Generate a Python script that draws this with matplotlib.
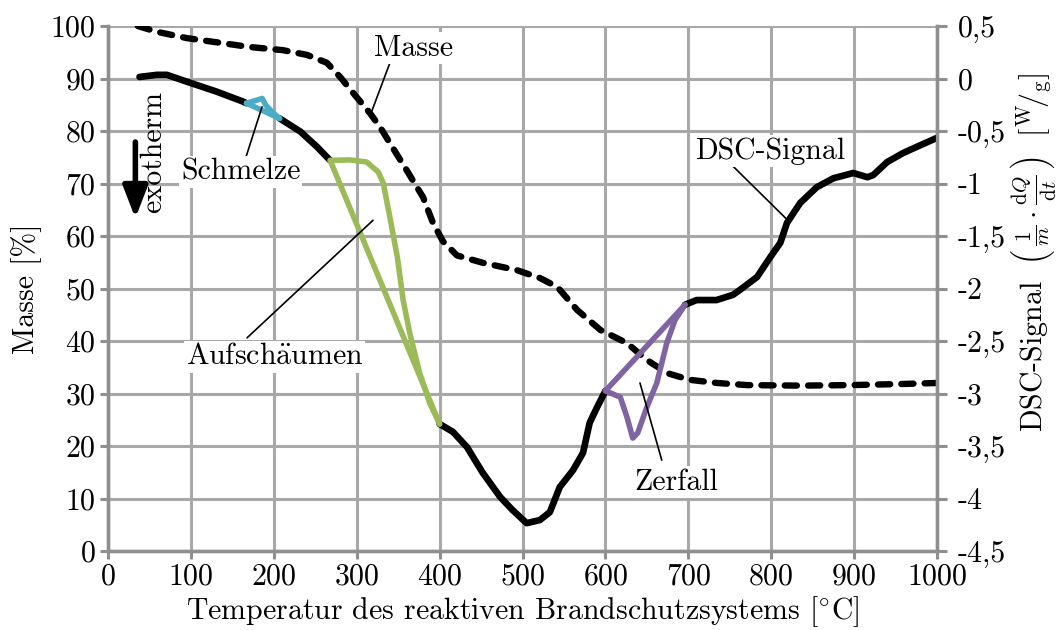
import numpy as np
import matplotlib
matplotlib.use('Agg')
import matplotlib.pyplot as plt

plt.rcParams['font.family'] = ['cmr10', 'DejaVu Serif']
plt.rcParams['mathtext.fontset'] = 'cm'
plt.rcParams['axes.unicode_minus'] = False
plt.rcParams['axes.formatter.use_mathtext'] = True
plt.rcParams['font.size'] = 21.5

# mass loss curve (TG)
mass_temp = [36, 59, 95, 131, 171, 211, 240, 264, 280, 296, 316, 328, 340, 360,
             380, 392, 404, 421, 452, 493, 521, 542, 566, 594, 626, 650, 674,
             702, 735, 771, 835, 895, 955, 1000]
mass = [100, 98.9, 97.7, 96.9, 96.0, 95.4, 94.5, 93.0, 90.3, 87.2, 83.4, 80.8,
        77.7, 72.6, 67.4, 62.5, 59.0, 56.3, 54.9, 53.5, 52.0, 50.3, 45.9, 42.1,
        39.6, 36.4, 33.9, 32.6, 32.0, 31.6, 31.5, 31.6, 31.8, 32.0]

# DSC signal in W/g
dsc_temp = [38, 59, 71, 95, 131, 163, 167, 178, 186, 190, 198, 207, 232, 252,
            268, 292, 312, 326, 332, 340, 349, 356, 364, 376, 388, 400, 416,
            433, 452, 473, 488, 505, 521, 533, 545, 561, 573, 581, 590, 600,
            618, 626, 633, 639, 650, 662, 674, 684, 696, 710, 734, 754, 762,
            783, 799, 811, 819, 835, 855, 875, 899, 916, 923, 940, 959, 980, 1000]
dsc = [0.015, 0.035, 0.035, -0.03, -0.125, -0.22, -0.235, -0.21, -0.19, -0.25,
       -0.32, -0.38, -0.505, -0.65, -0.78, -0.775, -0.795, -0.89, -0.995, -1.32,
       -1.70, -2.11, -2.425, -2.805, -3.09, -3.29, -3.365, -3.51, -3.755, -3.985,
       -4.11, -4.235, -4.205, -4.13, -3.89, -3.73, -3.565, -3.28, -3.13, -2.975,
       -3.035, -3.225, -3.425, -3.375, -3.13, -2.90, -2.52, -2.30, -2.155, -2.11,
       -2.11, -2.06, -2.015, -1.89, -1.70, -1.565, -1.375, -1.185, -1.035, -0.95,
       -0.90, -0.94, -0.92, -0.795, -0.71, -0.635, -0.565]

# marked events on the DSC curve (start / end temperature)
event_start = [167, 268, 600]
event_end = [207, 400, 696]
event_colors = ['#4bacc6', '#9bbb59', '#8064a2']

x_ticks = list(range(0, 1001, 100))
mass_ticks = list(range(0, 101, 10))
dsc_ticks = [0.5, 0, -0.5, -1, -1.5, -2, -2.5, -3, -3.5, -4, -4.5]
dsc_ticklabels = ['0,5', '0', '-0,5', '-1', '-1,5', '-2', '-2,5', '-3', '-3,5', '-4', '-4,5']

grid_col = '#a8a8a8'
spine_col = '#8f8f8f'

fig = plt.figure(figsize=(10.62, 6.30), dpi=100)
ax = fig.add_axes([0.1017, 0.1254, 0.7806, 0.8333])
ax2 = ax.twinx()

ax.set_xlim(0, 1000)
ax.set_ylim(0, 100)
ax2.set_ylim(-4.5, 0.5)
ax.set_xticks(x_ticks)
ax.set_yticks(mass_ticks)
ax2.set_yticks(dsc_ticks)
ax2.set_yticklabels(dsc_ticklabels)

ax.grid(True, color=grid_col, lw=2.2)
ax.set_axisbelow(True)
for a in (ax, ax2):
    a.spines['top'].set_visible(False)
    for s in ('left', 'right', 'bottom'):
        a.spines[s].set_color(spine_col)
        a.spines[s].set_linewidth(2.4)
ax.tick_params(direction='out', length=6, width=2.2, color=spine_col, pad=3)
ax2.tick_params(direction='out', length=7, width=2.2, color=spine_col, pad=8)

ax.set_xlabel(r'Temperatur des reaktiven Brandschutzsystems [$^{\circ}$C]', labelpad=2)
ax.set_ylabel('Masse [%]', labelpad=6)
ax2.set_ylabel(r'DSC-Signal $\;\left(\,\frac{1}{m}\cdot\frac{\mathrm{d}Q}{\mathrm{d}t}\,\right)\;$ '
               r'$[{}^{\mathrm{W}}\!/{}_{\mathrm{g}}]$')
ax2.yaxis.set_label_coords(1.088, 0.57)

# mass curve
ax.plot(mass_temp, mass, color='black', lw=4.6, dashes=(1.9, 1.75),
        dash_capstyle='round')

# DSC curve, black outside the marked events
t = np.array(dsc_temp, dtype=float)
v = np.array(dsc, dtype=float)
black = v.copy()
for s, e in zip(event_start, event_end):
    black[(t > s) & (t < e)] = np.nan
ax2.plot(t, black, color='black', lw=4.8, solid_capstyle='round',
         solid_joinstyle='round')
for s, e, c in zip(event_start, event_end, event_colors):
    sel = (t >= s) & (t <= e)
    ax2.plot(t[sel], v[sel], color=c, lw=4.0, solid_capstyle='round',
             solid_joinstyle='round')
    ax2.plot([t[sel][0], t[sel][-1]], [v[sel][0], v[sel][-1]], color=c, lw=4.0,
             solid_capstyle='round')

# labels with leader lines (left-axis coordinates)
labels = ['Masse', 'Schmelze', r'Aufsch$\ddot{\mathrm{a}}$umen', 'Zerfall', 'DSC-Signal']
label_pos = [(368, 95.8), (160, 72.2), (201, 37.0), (686, 13.1), (799, 76.2)]
line_start = [(342, 93.8), (155.6, 69.7), (167.7, 40.6), (668, 17.3), (750, 73.9)]
line_end = [(318, 83.7), (185.8, 84.6), (319.7, 63.0), (641.7, 32.0), (820, 63.0)]

for txt, p, s0, s1 in zip(labels, label_pos, line_start, line_end):
    ax2.annotate('', xy=s1, xycoords=ax.transData, xytext=s0,
                 textcoords=ax.transData,
                 arrowprops=dict(arrowstyle='-', lw=1.2, color='black',
                                 shrinkA=0, shrinkB=0), zorder=5)
    ax2.text(p[0], p[1], txt, transform=ax.transData, ha='center', va='center',
             zorder=6, bbox=dict(facecolor='white', edgecolor='none', pad=1.5))

# exotherm arrow
ax2.annotate('', xy=(33, 63.4), xycoords=ax.transData, xytext=(33, 77.9),
             textcoords=ax.transData,
             arrowprops=dict(arrowstyle='-|>,head_length=0.9,head_width=0.35',
                             lw=4, color='black', shrinkA=0, shrinkB=0))
ax2.text(55, 76, 'exotherm', transform=ax.transData, rotation=90,
         ha='center', va='center')

fig.savefig('out.png', dpi=100)
